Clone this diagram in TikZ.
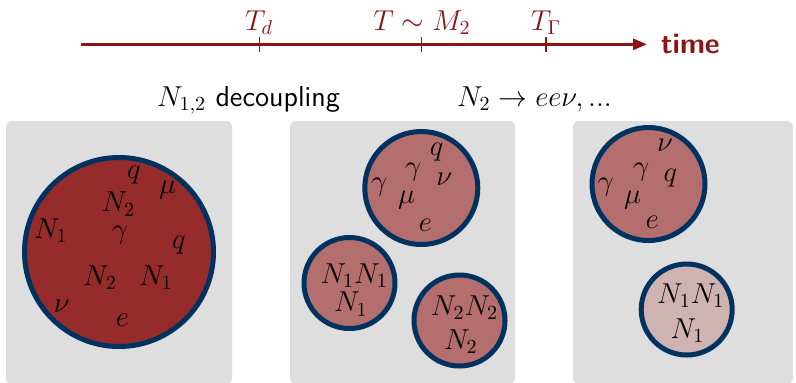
\documentclass[tikz,border=0pt]{standalone}
\usetikzlibrary{arrows.meta}
\definecolor{tred}{RGB}{140,20,20}
\definecolor{cbig}{RGB}{150,43,43}
\definecolor{cmid}{RGB}{180,110,110}
\definecolor{clight}{RGB}{207,178,178}
\definecolor{cborder}{RGB}{0,50,95}
\definecolor{cpanel}{RGB}{222,222,222}
\begin{document}
\begin{tikzpicture}[x=0.5pt,y=-0.5pt,
  every node/.style={inner sep=0pt, outer sep=0pt, font=\fontsize{14.4}{17}\selectfont},
  lab/.style={anchor=base},
  panel/.style={fill=cpanel, rounded corners=3pt},
  ball/.style={circle, draw=cborder, line width=2.5pt},
  tl/.style={draw=tred, line width=1.4pt},
  tick/.style={draw=tred, line width=0.7pt}]
\useasboundingbox (0,0) rectangle (796,382);
% timeline
\coordinate (tstart) at (81,44.3);
\coordinate (tend) at (647,44.3);
\draw[tl, -{Triangle[length=7pt,width=5.5pt]}] (tstart) -- (tend);
\draw[tick] (259.3,37) -- (259.3,52);
\draw[tick] (421.7,37) -- (421.7,52);
\draw[tick] (546,37) -- (546,52);
\node[lab, text=tred] (td) at (259,30) {$T_d$};
\node[lab, text=tred] (tm) at (422,30) {$T \sim M_2$};
\node[lab, text=tred] (tg) at (546,30) {$T_\Gamma$};
\node[anchor=base west, text=tred, font=\fontsize{14.4}{17}\selectfont\sffamily\bfseries] (time) at (661,53.3) {time};
% subtitles
\node[anchor=base west] (dec) at (157,106) {$N_{1,2}$ \sffamily decoupling};
\node[anchor=base west] (dk) at (457,106) {$N_2 \rightarrow ee\nu, ...$};
% panels
\fill[panel] (6,121) rectangle (232,384);
\fill[panel] (290,121) rectangle (515,384);
\fill[panel] (573,121) rectangle (793,384);
% panel 1
\node[ball, fill=cbig, minimum size=94.5pt] (b1) at (119,252) {};
\node[lab] (p1q1) at (134,178.3) {$q$};
\node[lab] (p1mu) at (167.7,193.3) {$\mu$};
\node[lab] (p1n2a) at (118.3,211.7) {$N_2$};
\node[lab] (p1n1a) at (50.8,238.3) {$N_1$};
\node[lab] (p1g) at (120,238.3) {$\gamma$};
\node[lab] (p1q2) at (178.8,248.3) {$q$};
\node[lab] (p1n2b) at (100,285) {$N_2$};
\node[lab] (p1n1b) at (155.8,285) {$N_1$};
\node[lab] (p1nu) at (61.7,312.7) {$\nu$};
\node[lab] (p1e) at (122.5,326.7) {$e$};
% panel 2
\node[ball, fill=cmid, minimum size=56.5pt] (b2) at (421.3,188) {};
\node[ball, fill=cmid, minimum size=45.5pt] (b2n1) at (349.5,283) {};
\node[ball, fill=cmid, minimum size=45.5pt] (b2n2) at (459.5,320.5) {};
\node[lab] (p2q) at (436.7,155) {$q$};
\node[lab] (p2ga) at (413.3,175) {$\gamma$};
\node[lab] (p2nu) at (444.2,185) {$\nu$};
\node[lab] (p2gb) at (379.2,190) {$\gamma$};
\node[lab] (p2mu) at (406.7,203.3) {$\mu$};
\node[lab] (p2e) at (425.5,231.7) {$e$};
\node[lab] (p2n1a) at (354.2,283.3) {$N_1N_1$};
\node[lab] (p2n1b) at (350.8,311.7) {$N_1$};
\node[lab] (p2n2a) at (464.5,315) {$N_2N_2$};
\node[lab] (p2n2b) at (460.8,349.3) {$N_2$};
% panel 3
\node[ball, fill=cmid, minimum size=56.5pt] (b3) at (648.5,184) {};
\node[ball, fill=clight, minimum size=45.5pt] (b3n1) at (686.7,309.5) {};
\node[lab] (p3nu) at (665,151.7) {$\nu$};
\node[lab] (p3ga) at (641.3,175) {$\gamma$};
\node[lab] (p3q) at (670.3,181.7) {$q$};
\node[lab] (p3gb) at (605.8,190) {$\gamma$};
\node[lab] (p3mu) at (632.7,203.3) {$\mu$};
\node[lab] (p3e) at (652.2,228.3) {$e$};
\node[lab] (p3n1a) at (690.8,303.3) {$N_1N_1$};
\node[lab] (p3n1b) at (687.5,338.3) {$N_1$};
\end{tikzpicture}
\end{document}
